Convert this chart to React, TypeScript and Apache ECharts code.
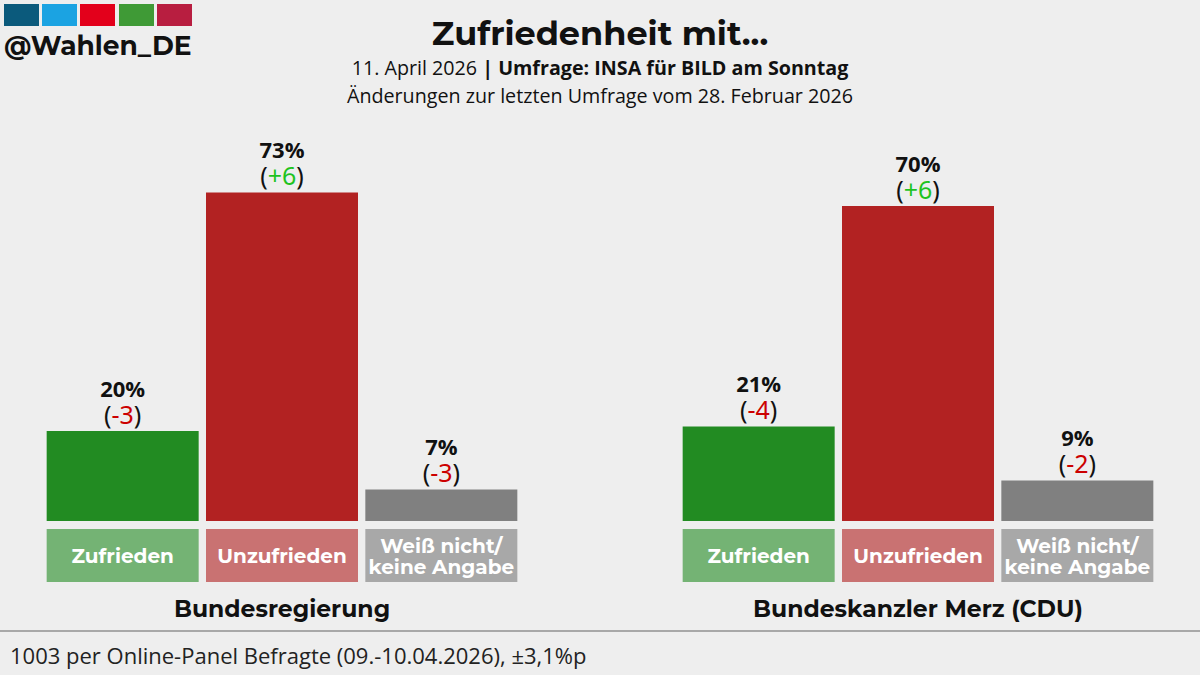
import React, { useEffect, useRef } from "react";
import * as echarts from "echarts";

const categories = ["Zufrieden", "Unzufrieden", "Weiß nicht/\nkeine Angabe"];
const groupNames = ["Bundesregierung", "Bundeskanzler Merz (CDU)"];
const regierungValues = [20, 73, 7];
const regierungChanges = [-3, 6, -3];
const merzValues = [21, 70, 9];
const merzChanges = [-4, 6, -2];

const barColors = ["#228b22", "#b22222", "#808080"];
const boxColors = ["#74b374", "#c97272", "#a8a8a8"];
const logoColors = ["#0b5a7c", "#1ba3e2", "#e3001b", "#3f9a36", "#b81e40"];

const HEAD = "Montserrat, 'DejaVu Sans', sans-serif";
const BODY = "'Open Sans', 'Noto Sans', sans-serif";

function makeSeries(values: number[], changes: number[], idx: number) {
  return {
    type: "bar",
    xAxisIndex: idx,
    yAxisIndex: idx,
    barWidth: 152,
    data: values.map((v, i) => ({
      value: v,
      itemStyle: { color: barColors[i] },
    })),
    label: {
      show: true,
      position: "top",
      distance: 4,
      formatter: (p: any) => {
        const c = changes[p.dataIndex];
        const s = c > 0 ? "+" + c : String(c);
        const k = c > 0 ? "up" : "down";
        return "{v|" + p.value + "%}\n{p|(}{" + k + "|" + s + "}{p|)}";
      },
      rich: {
        v: { fontFamily: BODY, fontWeight: "bold", fontSize: 22, color: "#111", lineHeight: 25, align: "center" },
        p: { fontFamily: "'Noto Sans', sans-serif", fontSize: 25, color: "#111", lineHeight: 27 },
        up: { fontFamily: "'Noto Sans', sans-serif", fontSize: 25, color: "#1ec31e", lineHeight: 27 },
        down: { fontFamily: "'Noto Sans', sans-serif", fontSize: 25, color: "#cc0000", lineHeight: 27 },
      },
    },
  };
}

function makeXAxis(idx: number) {
  return {
    type: "category",
    gridIndex: idx,
    data: categories.map((c, i) => {
      const two = c.indexOf("\n") >= 0;
      return {
        value: c,
        textStyle: {
          backgroundColor: boxColors[i],
          height: two ? 42 : 21,
          padding: two ? [6, 0, 5, 0] : [16, 0, 16, 0],
        },
      };
    }),
    axisLine: { show: false },
    axisTick: { show: false },
    axisLabel: {
      interval: 0,
      margin: 8,
      width: 152,
      overflow: "none",
      align: "center",
      verticalAlign: "top",
      lineHeight: 21,
      color: "#ffffff",
      fontFamily: HEAD,
      fontWeight: "bold",
      fontSize: 20,
    },
  };
}

export default function App() {
  const ref = useRef<HTMLDivElement>(null);
  useEffect(() => {
    document.body.style.margin = "0";
    const chart = echarts.init(ref.current!, null, { renderer: "svg" });
    const graphics: any[] = [];
    const logoX = [4, 42, 80, 119, 157];
    logoColors.forEach((c, i) => {
      graphics.push({
        type: "rect",
        shape: { x: logoX[i], y: 4, width: 35, height: 22 },
        style: { fill: c },
      });
    });
    graphics.push({
      type: "text",
      x: 4,
      y: 45,
      style: { text: "@Wahlen_DE", fill: "#111", fontFamily: HEAD, fontWeight: "bold", fontSize: 26.5, align: "left", verticalAlign: "middle" },
    });
    graphics.push({
      type: "text",
      x: 600,
      y: 33,
      style: { text: "Zufriedenheit mit...", fill: "#111", fontFamily: HEAD, fontWeight: "bold", fontSize: 33.5, align: "center", verticalAlign: "middle" },
    });
    graphics.push({
      type: "text",
      x: 600,
      y: 67,
      style: {
        text: "{a|11. April 2026 }{b|| Umfrage: INSA für BILD am Sonntag}",
        align: "center",
        verticalAlign: "middle",
        rich: {
          a: { fontFamily: BODY, fontSize: 19.7, fill: "#111", color: "#111" },
          b: { fontFamily: BODY, fontSize: 19.7, fontWeight: "bold", fill: "#111", color: "#111" },
        },
      },
    });
    graphics.push({
      type: "text",
      x: 600,
      y: 95,
      style: { text: "Änderungen zur letzten Umfrage vom 28. Februar 2026", fill: "#111", fontFamily: BODY, fontSize: 19.7, align: "center", verticalAlign: "middle" },
    });
    const groupX = [282, 918];
    groupNames.forEach((g, i) => {
      graphics.push({
        type: "text",
        x: groupX[i],
        y: 608,
        style: { text: g, fill: "#111", fontFamily: HEAD, fontWeight: "bold", fontSize: 23.5, align: "center", verticalAlign: "middle" },
      });
    });
    graphics.push({
      type: "line",
      shape: { x1: 0, y1: 631, x2: 1200, y2: 631 },
      style: { stroke: "#a8a8a8", lineWidth: 2 },
    });
    graphics.push({
      type: "text",
      x: 10,
      y: 655,
      style: { text: "1003 per Online-Panel Befragte (09.-10.04.2026), ±3,1%p", fill: "#222", fontFamily: BODY, fontSize: 22, align: "left", verticalAlign: "middle" },
    });

    chart.setOption({
      animation: false,
      backgroundColor: "#eeeeee",
      grid: [
        { left: 43, width: 478, top: 71, height: 450 },
        { left: 679, width: 478, top: 71, height: 450 },
      ],
      xAxis: [makeXAxis(0), makeXAxis(1)],
      yAxis: [0, 1].map((i) => ({
        type: "value",
        gridIndex: i,
        min: 0,
        max: 100,
        show: false,
        splitLine: { show: false },
      })),
      series: [makeSeries(regierungValues, regierungChanges, 0), makeSeries(merzValues, merzChanges, 1)],
      graphic: graphics,
    });
    return () => chart.dispose();
  }, []);
  return <div ref={ref} style={{ width: 1200, height: 675 }} />;
}
